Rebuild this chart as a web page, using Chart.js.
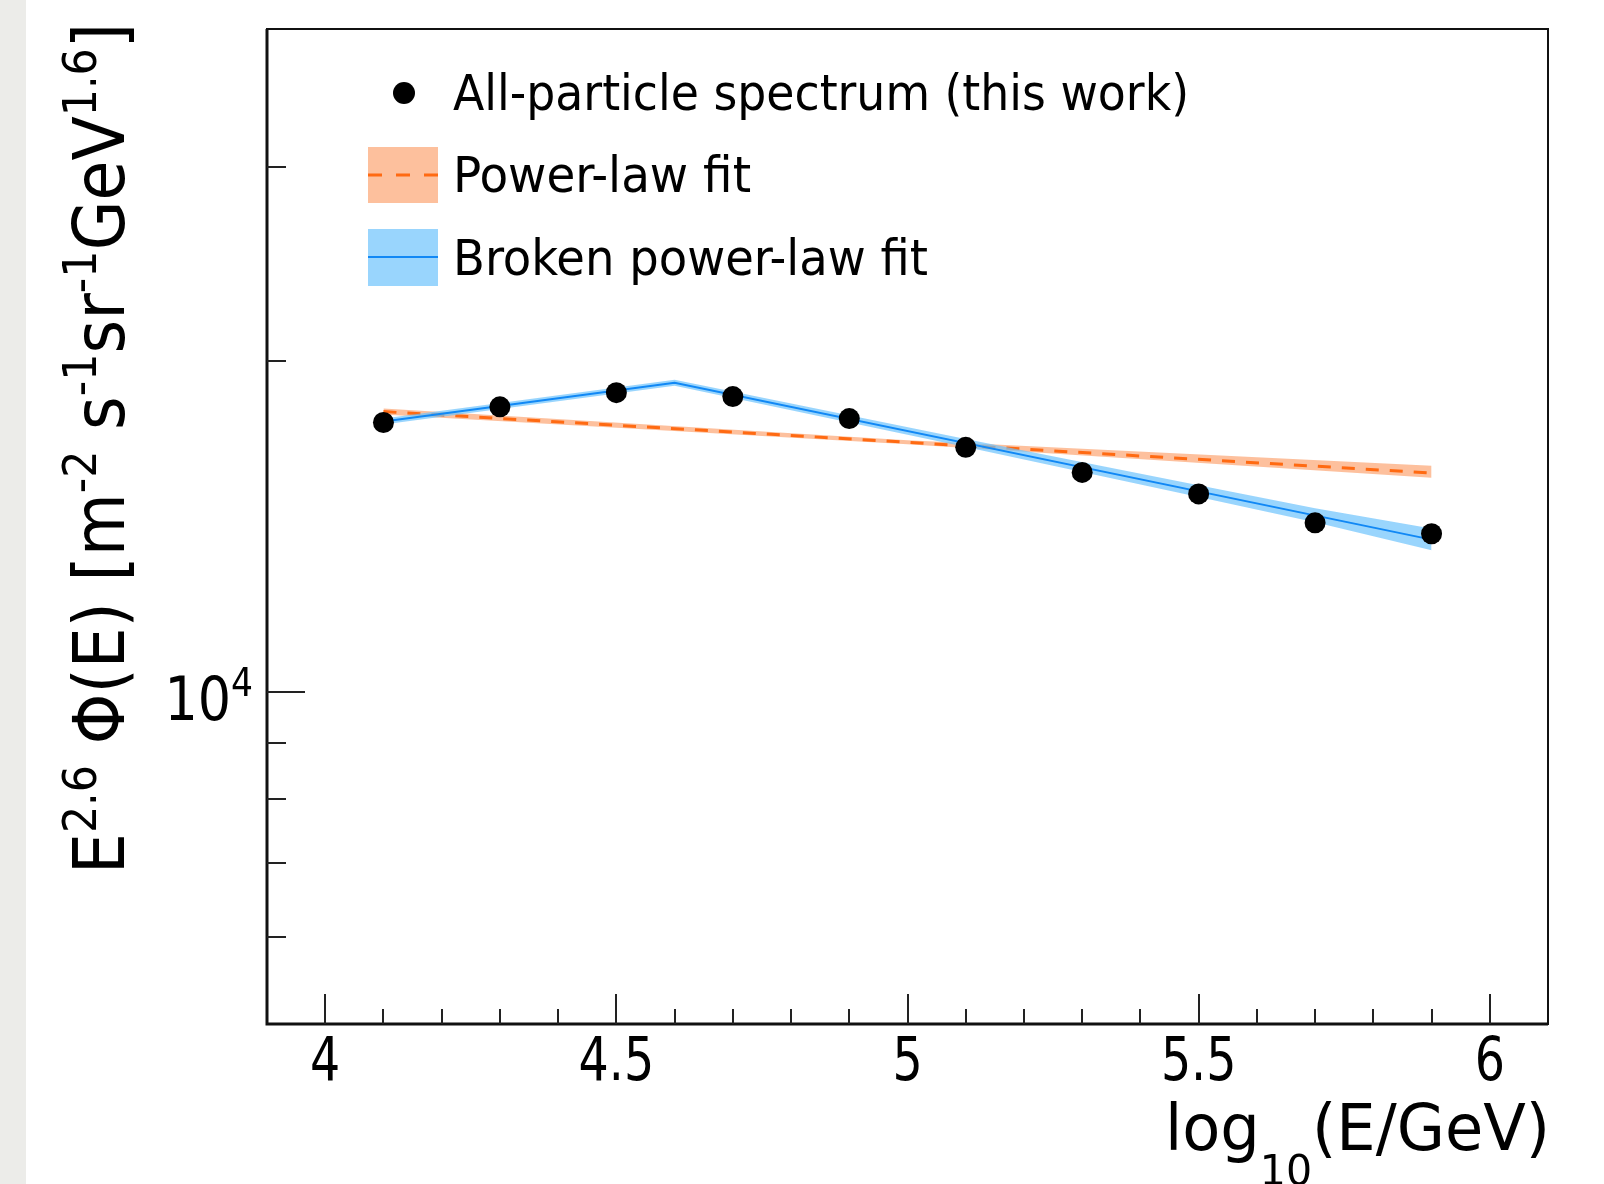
<!DOCTYPE html>
<html>
<head>
<meta charset="utf-8">
<title>All-particle spectrum</title>
<script src="https://cdn.jsdelivr.net/npm/chart.js@4.4.1/dist/chart.umd.min.js"></script>
<style>
    html, body { margin: 0; padding: 0; }
    body {
        width: 1604px;
        height: 1184px;
        background: linear-gradient(to right, #ecece9 0, #ecece9 26px, #ffffff 26px);
    }
    #wrap { position: relative; width: 1604px; height: 1184px; }
</style>
</head>
<body>
<div id="wrap"><canvas id="spectrumChart"></canvas></div>
<script>
// Measured points, log10(E/GeV) and E^2.6 * flux
const energies = [4.1, 4.3, 4.5, 4.7, 4.9, 5.1, 5.3, 5.5, 5.7, 5.9];
const fluxes = [17575, 18160, 18707, 18553, 17720, 16686, 15834, 15138, 14250, 13929];

// Power-law fit line and its band
const plX = [4.1, 5.9];
const plY = [17980, 15815];
const plBandX = [4.1, 5.0, 5.9];
const plBandHi = [18095, 16935, 16057];
const plBandLo = [17870, 16795, 15660];

// Broken power-law fit line (break near 4.6) and its band
const bplX = [4.1, 4.6, 5.9];
const bplY = [17610, 19100, 13760];
const bplBandX = [4.1, 4.6, 5.1, 5.5, 5.7, 5.9];
const bplBandHi = [17720, 19220, 16980, 15417, 14690, 14082];
const bplBandLo = [17500, 18980, 16700, 15040, 14265, 13455];

// Axis ticks
const xMajorTicks = [4, 4.5, 5, 5.5, 6];
const xTickLabels = ['4', '4.5', '5', '5.5', '6'];
const xMinorTicks = [4.1, 4.2, 4.3, 4.4, 4.6, 4.7, 4.8, 4.9, 5.1, 5.2, 5.3, 5.4, 5.6, 5.7, 5.8, 5.9];
const yMajorTicks = [10000];
const yTickLabels = [['10', '4']];
const yMinorTicks = [6000, 7000, 8000, 9000, 20000, 30000];

const legendLabels = ['All-particle spectrum (this work)', 'Power-law fit', 'Broken power-law fit'];

const FONT = '"DejaVu Sans Condensed", "DejaVu Sans", sans-serif';
const ORANGE = '#ff6a12';
const ORANGE_BAND = 'rgba(252, 130, 60, 0.5)';
const BLUE = '#1188f5';
const BLUE_BAND = 'rgba(110, 195, 252, 0.7)';

function toPoints(xs, ys) {
    return xs.map((x, i) => ({ x: x, y: ys[i] }));
}

// Draw text made of pieces; each piece is [text, shift] with shift 1 = superscript, -1 = subscript.
function drawRich(ctx, parts, x, y, size, opts) {
    opts = opts || {};
    const subSize = size * 0.66;
    const widths = parts.map(p => {
        ctx.font = (p[1] ? subSize : size) + 'px ' + FONT;
        return ctx.measureText(p[0]).width;
    });
    const natural = widths.reduce((a, b) => a + b, 0);
    const hscale = opts.width ? opts.width / natural : (opts.hscale || 1);
    const total = natural * hscale;

    ctx.save();
    ctx.translate(x, y);
    if (opts.rotate) ctx.rotate(opts.rotate);
    let start = 0;
    if (opts.align === 'right') start = -total;
    if (opts.align === 'center') start = -total / 2;
    ctx.scale(hscale, 1);
    ctx.fillStyle = opts.color || '#000';
    ctx.textBaseline = 'alphabetic';
    ctx.textAlign = 'left';
    let cx = start / hscale;
    parts.forEach((p, i) => {
        ctx.font = (p[1] ? subSize : size) + 'px ' + FONT;
        let dy = 0;
        if (p[1] === 1) dy = -size * 0.4;
        if (p[1] === -1) dy = size * (opts.subShift || 0.28);
        ctx.fillText(p[0], cx, dy);
        cx += widths[i];
    });
    ctx.restore();
}

// ROOT-like frame, inward ticks, titles and legend
const rootStyle = {
    id: 'rootStyle',
    afterDatasetsDraw(chart) {
        const ctx = chart.ctx;
        const area = chart.chartArea;
        const xs = chart.scales.x;
        const ys = chart.scales.y;

        ctx.save();
        ctx.strokeStyle = '#111';
        ctx.lineWidth = 2;
        ctx.strokeRect(area.left, area.top, area.right - area.left, area.bottom - area.top);
        ctx.lineWidth = 3;
        ctx.beginPath();
        ctx.moveTo(area.left, area.top);
        ctx.lineTo(area.left, area.bottom);
        ctx.lineTo(area.right, area.bottom);
        ctx.stroke();

        ctx.lineWidth = 2;
        ctx.strokeStyle = '#222';
        ctx.beginPath();
        xMajorTicks.forEach(v => {
            const px = Math.round(xs.getPixelForValue(v));
            ctx.moveTo(px, area.bottom);
            ctx.lineTo(px, area.bottom - 30);
        });
        xMinorTicks.forEach(v => {
            const px = Math.round(xs.getPixelForValue(v));
            ctx.moveTo(px, area.bottom);
            ctx.lineTo(px, area.bottom - 15);
        });
        yMajorTicks.forEach(v => {
            const py = Math.round(ys.getPixelForValue(v));
            ctx.moveTo(area.left, py);
            ctx.lineTo(area.left + 38, py);
        });
        yMinorTicks.forEach(v => {
            const py = Math.round(ys.getPixelForValue(v));
            ctx.moveTo(area.left, py);
            ctx.lineTo(area.left + 19, py);
        });
        ctx.stroke();
        ctx.restore();
    },
    afterDraw(chart) {
        const ctx = chart.ctx;
        const xs = chart.scales.x;
        const ys = chart.scales.y;

        // tick labels
        xMajorTicks.forEach((v, i) => {
            drawRich(ctx, [[xTickLabels[i], 0]], xs.getPixelForValue(v), 1080, 60, { align: 'center', hscale: 0.88 });
        });
        yMajorTicks.forEach((v, i) => {
            const lab = yTickLabels[i];
            drawRich(ctx, [[lab[0], 0], [lab[1], 1]], 253, ys.getPixelForValue(v) + 28, 60, { align: 'right', hscale: 0.97 });
        });

        // axis titles
        drawRich(ctx, [['log', 0], ['10', -1], ['(E/GeV)', 0]], 1550, 1150, 64, { align: 'right', width: 385, subShift: 0.55 });
        drawRich(ctx, [
            ['E', 0], ['2.6', 1], [' \u03A6(E) [m', 0], ['-2', 1], [' s', 0], ['-1', 1],
            ['sr', 0], ['-1', 1], ['GeV', 0], ['1.6', 1], [']', 0]
        ], 124, 874, 71, { rotate: -Math.PI / 2, width: 851 });

        // legend
        ctx.save();
        ctx.fillStyle = '#000';
        ctx.beginPath();
        ctx.arc(404, 93, 11, 0, Math.PI * 2);
        ctx.fill();

        ctx.fillStyle = ORANGE_BAND;
        ctx.fillRect(368, 147, 70, 56);
        ctx.strokeStyle = ORANGE;
        ctx.lineWidth = 3;
        ctx.setLineDash([14, 14]);
        ctx.beginPath();
        ctx.moveTo(368, 175);
        ctx.lineTo(438, 175);
        ctx.stroke();

        ctx.fillStyle = BLUE_BAND;
        ctx.fillRect(368, 229, 70, 57);
        ctx.strokeStyle = BLUE;
        ctx.lineWidth = 2;
        ctx.setLineDash([]);
        ctx.beginPath();
        ctx.moveTo(368, 257);
        ctx.lineTo(438, 257);
        ctx.stroke();
        ctx.restore();

        drawRich(ctx, [[legendLabels[0], 0]], 453, 110, 50, { width: 736 });
        drawRich(ctx, [[legendLabels[1], 0]], 453, 192, 50, { width: 298 });
        drawRich(ctx, [[legendLabels[2], 0]], 453, 275, 50, { width: 475 });
    }
};

const ctx = document.getElementById('spectrumChart').getContext('2d');
const spectrumChart = new Chart(ctx, {
    type: 'scatter',
    data: {
        datasets: [
            {
                label: 'pl band hi',
                data: toPoints(plBandX, plBandHi),
                showLine: true, borderWidth: 0, pointRadius: 0,
                fill: false, order: 5
            },
            {
                label: 'pl band lo',
                data: toPoints(plBandX, plBandLo),
                showLine: true, borderWidth: 0, pointRadius: 0,
                backgroundColor: ORANGE_BAND, fill: '-1', order: 5
            },
            {
                label: legendLabels[1],
                data: toPoints(plX, plY),
                showLine: true, borderColor: ORANGE, borderWidth: 3, borderDash: [13, 11],
                pointRadius: 0, fill: false, order: 4
            },
            {
                label: 'bpl band hi',
                data: toPoints(bplBandX, bplBandHi),
                showLine: true, borderWidth: 0, pointRadius: 0,
                fill: false, order: 3
            },
            {
                label: 'bpl band lo',
                data: toPoints(bplBandX, bplBandLo),
                showLine: true, borderWidth: 0, pointRadius: 0,
                backgroundColor: BLUE_BAND, fill: '-1', order: 3
            },
            {
                label: legendLabels[2],
                data: toPoints(bplX, bplY),
                showLine: true, borderColor: BLUE, borderWidth: 2,
                pointRadius: 0, fill: false, order: 2
            },
            {
                label: legendLabels[0],
                data: toPoints(energies, fluxes),
                pointRadius: 10.5, pointBackgroundColor: '#000', pointBorderWidth: 0,
                showLine: false, order: 1
            }
        ]
    },
    options: {
        responsive: true,
        maintainAspectRatio: false,
        animation: false,
        devicePixelRatio: 1,
        layout: { padding: { left: 0, top: 29, right: 56, bottom: 0 } },
        scales: {
            x: {
                type: 'linear',
                min: 3.9,
                max: 6.1,
                grid: { display: false },
                border: { display: false },
                ticks: { display: false },
                afterFit: scale => { scale.height = 160; }
            },
            y: {
                type: 'logarithmic',
                min: 5000,
                max: 40000,
                grid: { display: false },
                border: { display: false },
                ticks: { display: false },
                afterFit: scale => { scale.width = 267; }
            }
        },
        plugins: {
            legend: { display: false },
            tooltip: { enabled: false }
        }
    },
    plugins: [rootStyle]
});
</script>
</body>
</html>
